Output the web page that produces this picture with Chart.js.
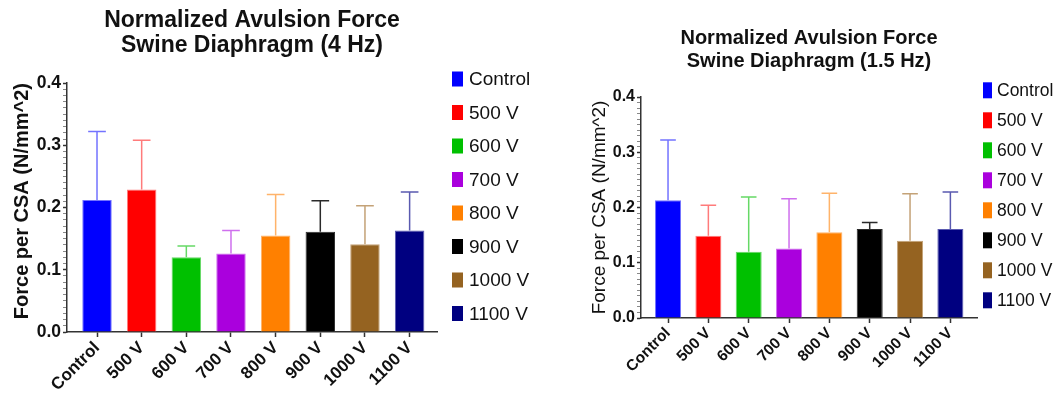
<!DOCTYPE html>
<html>
<head>
<meta charset="utf-8">
<script src="https://cdn.jsdelivr.net/npm/chart.js@4"></script>
<style>
  html, body { margin: 0; background: #fff; }
  #wrap { position: relative; width: 1059px; height: 396px; overflow: hidden; }
  .box { position: absolute; top: 0; height: 396px; }
</style>
</head>
<body>
<div id="wrap">
  <div class="box" style="left:0;width:540px"><canvas id="hz4"></canvas></div>
  <div class="box" style="left:560px;width:499px"><canvas id="hz15"></canvas></div>
</div>
<script>
// Two Prism-style bar charts (mean + upper SD whisker), one per stimulation frequency.

const groups = ["Control", "500 V", "600 V", "700 V", "800 V", "900 V", "1000 V", "1100 V"];
const barColors = ["#0000ff", "#ff0000", "#00c000", "#aa00dd", "#ff8000", "#000000", "#956321", "#000080"];
const errColors = ["#7373ff", "#ff7b7b", "#66d966", "#cf70ee", "#ffb36a", "#2a2a2a", "#c4a277", "#5a5ab0"];

const mean4Hz = [0.212, 0.229, 0.120, 0.126, 0.155, 0.161, 0.141, 0.163];
const upper4Hz = [0.322, 0.308, 0.138, 0.163, 0.221, 0.211, 0.203, 0.225];
const mean15Hz = [0.213, 0.149, 0.120, 0.126, 0.155, 0.161, 0.140, 0.161];
const upper15Hz = [0.322, 0.204, 0.219, 0.216, 0.226, 0.173, 0.225, 0.228];

const yMax = 0.4;
const yMinorStep = 0.01;

const FONT = '"Liberation Sans", Arial, sans-serif';

const errorBars = {
  id: "errorBars",
  afterDatasetsDraw(chart, args, o) {
    const { ctx } = chart;
    const y = chart.scales.y;
    ctx.save();
    ctx.lineWidth = 1.5;
    chart.getDatasetMeta(0).data.forEach((bar, i) => {
      const top = y.getPixelForValue(o.upper[i]);
      const half = (bar.width * 0.6) / 2;
      ctx.strokeStyle = errColors[i];
      ctx.beginPath();
      ctx.moveTo(bar.x, bar.y);
      ctx.lineTo(bar.x, top);
      ctx.moveTo(bar.x - half, top);
      ctx.lineTo(bar.x + half, top);
      ctx.stroke();
    });
    ctx.restore();
  },
};

// Prism puts the key in a plain column to the right of the plot.
const sideLegend = {
  id: "sideLegend",
  afterDraw(chart, args, o) {
    const { ctx } = chart;
    ctx.save();
    ctx.font = `${o.size}px ${FONT}`;
    ctx.textBaseline = "middle";
    groups.forEach((g, i) => {
      const cy = o.y + i * o.gap;
      ctx.fillStyle = barColors[i];
      ctx.fillRect(o.x, cy - o.h / 2, o.w, o.h);
      ctx.fillStyle = "#111";
      ctx.fillText(g, o.textX, cy + 1);
    });
    ctx.restore();
  },
};

const isMajor = (v) => Math.round(v * 100) % 10 === 0;

function build(id, c) {
  return new Chart(document.getElementById(id), {
    type: "bar",
    data: {
      datasets: [{
        data: c.mean.map((v, i) => ({ x: i, y: v })),
        backgroundColor: barColors,
        borderColor: errColors,
        borderWidth: 1,
        categoryPercentage: 1,
        barPercentage: c.barPct,
      }],
    },
    options: {
      responsive: true,
      maintainAspectRatio: false,
      animation: false,
      layout: { padding: { left: 0, right: c.padRight, top: 0, bottom: 0 } },
      plugins: {
        legend: { display: false },
        tooltip: { enabled: false },
        title: {
          display: true,
          fullSize: false,
          text: c.title,
          color: "#111",
          font: { family: FONT, size: c.titleSize, weight: "bold", lineHeight: c.titleLine },
          padding: { top: c.titleTop, bottom: c.titleBottom },
        },
        errorBars: { upper: c.upper },
        sideLegend: c.legend,
      },
      scales: {
        x: {
          type: "linear",
          min: c.xMin,
          max: c.xMax,
          offset: false,
          afterBuildTicks: (s) => { s.ticks = groups.map((_, i) => ({ value: i })); },
          afterFit: (s) => { s.height = c.xHeight; },
          grid: { drawOnChartArea: false, offset: false, tickLength: 5, color: "#333", tickWidth: 1.5 },
          border: { color: "#333", width: 1.5 },
          ticks: {
            autoSkip: false,
            minRotation: 45,
            maxRotation: 45,
            padding: 1,
            color: "#111",
            font: { family: FONT, size: c.xTickSize, weight: "bold" },
            callback: (v) => groups[v],
          },
        },
        y: {
          min: 0,
          max: yMax,
          afterBuildTicks: (s) => {
            const t = [];
            for (let k = 0; k <= Math.round(yMax / yMinorStep); k++) t.push({ value: +(k * yMinorStep).toFixed(2) });
            s.ticks = t;
          },
          afterFit: (s) => { s.width = c.yWidth; },
          grid: {
            drawOnChartArea: false,
            tickLength: 4,
            color: (ctx) => (ctx.tick && isMajor(ctx.tick.value) ? "#333" : "#888"),
            tickWidth: (ctx) => (ctx.tick && isMajor(ctx.tick.value) ? 1.5 : 1),
          },
          border: { color: "#333", width: 1.5 },
          ticks: {
            autoSkip: false,
            padding: 2,
            color: "#111",
            font: { family: FONT, size: c.yTickSize, weight: "bold" },
            callback: (v) => (isMajor(v) ? v.toFixed(1) : ""),
          },
          title: {
            display: true,
            text: "Force per CSA (N/mm^2)",
            align: c.yTitleAlign,
            color: "#111",
            font: { family: FONT, size: c.yTitleSize, weight: c.yTitleWeight },
            padding: { top: c.yTitlePad, bottom: 0 },
          },
        },
      },
    },
    plugins: [errorBars, sideLegend],
  });
}

build("hz4", {
  mean: mean4Hz,
  upper: upper4Hz,
  title: ["Normalized Avulsion Force", "Swine Diaphragm (4 Hz)"],
  titleSize: 23, titleLine: 25 / 23, titleTop: 8, titleBottom: 25,
  xMin: -0.672, xMax: 7.613, barPct: 0.66,
  padRight: 103, xHeight: 64, yWidth: 67,
  xTickSize: 17, yTickSize: 17.5, yTitleSize: 20, yTitleWeight: "bold", yTitlePad: 10, yTitleAlign: "end",
  legend: { x: 452, w: 11, h: 15, y: 79, gap: 33.5, textX: 469, size: 19 },
});

build("hz15", {
  mean: mean15Hz,
  upper: upper15Hz,
  title: ["Normalized Avulsion Force", "Swine Diaphragm (1.5 Hz)"],
  titleSize: 20, titleLine: 23 / 20, titleTop: 27, titleBottom: 24,
  xMin: -0.67, xMax: 7.66, barPct: 0.645,
  padRight: 82, xHeight: 78, yWidth: 81,
  xTickSize: 15.5, yTickSize: 16, yTitleSize: 19, yTitleWeight: "normal", yTitlePad: 28, yTitleAlign: "center",
  legend: { x: 423, w: 9, h: 16, y: 90.3, gap: 30, textX: 437, size: 17.5 },
});
</script>
</body>
</html>
